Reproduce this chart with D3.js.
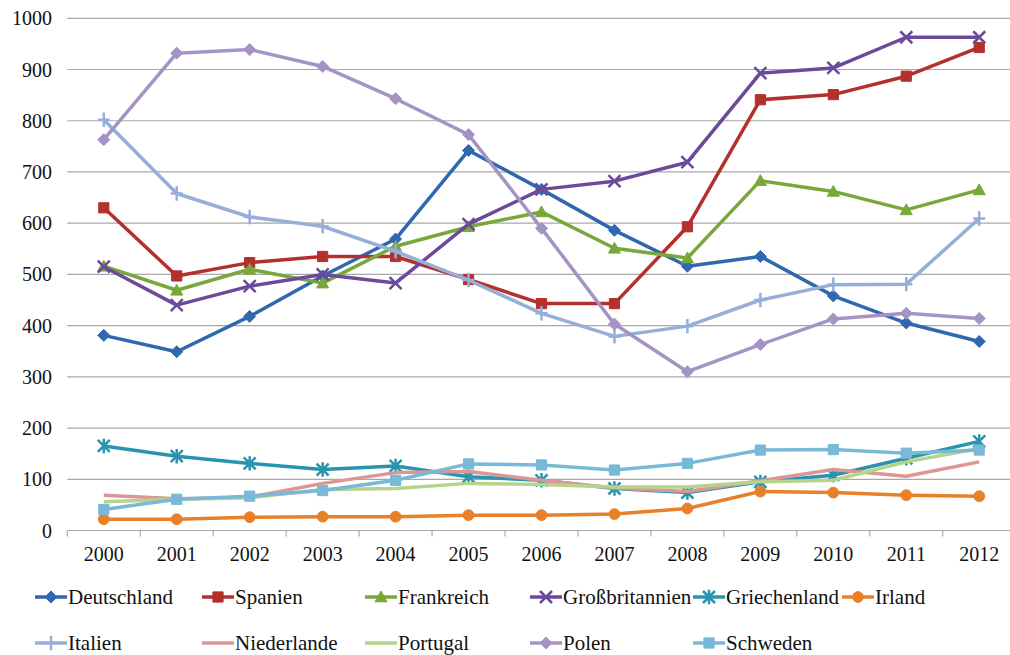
<!DOCTYPE html>
<html>
<head>
<meta charset="utf-8">
<script src="https://cdn.jsdelivr.net/npm/d3@7"></script>
</head>
<body style="margin:0; background:#fff">
<script>
// years on the x axis
const years = ["2000", "2001", "2002", "2003", "2004", "2005", "2006", "2007", "2008", "2009", "2010", "2011", "2012"];
const yTicks = [0, 100, 200, 300, 400, 500, 600, 700, 800, 900, 1000];

// series values
const deutschland = [381, 349, 418, 497, 569, 742, 666, 586, 516, 535, 458, 405, 369];
const spanien = [630, 497, 523, 535, 535, 490, 443, 443, 593, 841, 851, 887, 943];
const frankreich = [516, 469, 510, 483, 555, 593, 622, 551, 532, 683, 662, 626, 665];
const grossbritannien = [515, 440, 477, 500, 483, 598, 666, 682, 719, 893, 903, 963, 963];
const griechenland = [165, 145, 131, 119, 126, 105, 98, 82, 74, 95, 108, 141, 174];
const irland = [22, 22, 26, 27, 27, 30, 30, 32, 43, 76, 74, 69, 67];
const italien = [802, 658, 612, 594, 545, 489, 424, 379, 399, 450, 480, 481, 609];
const niederlande = [69, 62, 65, 92, 113, 115, 98, 83, 76, 97, 119, 106, 134];
const portugal = [56, 61, 64, 80, 82, 92, 90, 85, 85, 95, 98, 134, 160];
const polen = [763, 932, 939, 906, 843, 773, 590, 403, 310, 363, 413, 424, 414];
const schweden = [41, 61, 67, 78, 98, 130, 128, 118, 131, 157, 158, 151, 157];

const seriesNames = ["Deutschland", "Spanien", "Frankreich", "Großbritannien", "Griechenland", "Irland",
                     "Italien", "Niederlande", "Portugal", "Polen", "Schweden"];
const seriesValues = [deutschland, spanien, frankreich, grossbritannien, griechenland, irland,
                      italien, niederlande, portugal, polen, schweden];
const colors = ["#3068b0", "#b3302d", "#78a83a", "#6b4a9a", "#2a93ad", "#e8802a",
                "#95afd8", "#db9696", "#b5d48a", "#a593c4", "#7ab8d8"];
const markers = ["diamond", "square", "triangle", "x", "star", "circle", "plus", "none", "none", "diamond", "square"];

const W = 1010, H = 655;
const svg = d3.select("body").append("svg")
    .attr("width", W)
    .attr("height", H)
    .attr("font-family", "Liberation Serif");

// every text goes through here so the serif face is set on the element itself
function label(sel, size) {
    return sel
        .attr("font-family", "Liberation Serif")
        .style("font-family", '"Liberation Serif"')
        .style("font-size", size + "px")
        .attr("fill", "#111");
}

const x = d3.scaleBand().domain(years).range([67.3, 1015.7]);
const y = d3.scaleLinear().domain([0, 1000]).range([530.5, 18.3]);

// gridlines
svg.append("g")
    .selectAll("line")
    .data(yTicks.slice(1))
    .join("line")
    .attr("x1", 67.3)
    .attr("x2", W)
    .attr("y1", d => y(d))
    .attr("y2", d => y(d))
    .attr("stroke", "#a8a8a8")
    .attr("stroke-width", 1.2);

// y axis labels
svg.append("g")
    .selectAll("text")
    .data(yTicks)
    .join("text")
    .attr("x", 52)
    .attr("y", d => y(d) + 7)
    .attr("text-anchor", "end")
    .call(label, 20)
    .text(d => d);

// x axis labels
svg.append("g")
    .selectAll("text")
    .data(years)
    .join("text")
    .attr("x", d => x(d) + x.bandwidth() / 2)
    .attr("y", y(0) + 30)
    .attr("text-anchor", "middle")
    .call(label, 20)
    .text(d => d);
svg.append("line")
    .attr("x1", 67.3)
    .attr("x2", W)
    .attr("y1", y(0))
    .attr("y2", y(0))
    .attr("stroke", "#a8a8a8")
    .attr("stroke-width", 1.2);
svg.append("g")
    .selectAll("line")
    .data(years)
    .join("line")
    .attr("x1", d => x(d))
    .attr("x2", d => x(d))
    .attr("y1", y(0))
    .attr("y2", y(0) + 6)
    .attr("stroke", "#a8a8a8")
    .attr("stroke-width", 1.2);

// marker drawing
function markerPath(type, r) {
    const p = d3.path();
    if (type === "diamond") {
        p.moveTo(0, -r); p.lineTo(r, 0); p.lineTo(0, r); p.lineTo(-r, 0); p.closePath();
    } else if (type === "square") {
        p.rect(-r * 0.85, -r * 0.85, r * 1.7, r * 1.7);
    } else if (type === "triangle") {
        p.moveTo(0, -r); p.lineTo(r, r * 0.8); p.lineTo(-r, r * 0.8); p.closePath();
    } else if (type === "circle") {
        p.arc(0, 0, r * 0.9, 0, 2 * Math.PI);
    } else if (type === "x") {
        p.moveTo(-r, -r); p.lineTo(r, r); p.moveTo(r, -r); p.lineTo(-r, r);
    } else if (type === "star") {
        p.moveTo(-r, -r); p.lineTo(r, r); p.moveTo(r, -r); p.lineTo(-r, r);
        p.moveTo(0, -r * 1.2); p.lineTo(0, r * 1.2);
    } else if (type === "plus") {
        p.moveTo(-r, 0); p.lineTo(r, 0); p.moveTo(0, -r * 1.2); p.lineTo(0, r * 1.2);
    }
    return p.toString();
}
const strokeMarkers = ["x", "star", "plus"];

const line = d3.line()
    .x((d, i) => x(years[i]) + x.bandwidth() / 2)
    .y(d => y(d));

// series lines + markers
seriesNames.forEach((name, k) => {
    const g = svg.append("g");
    g.append("path")
        .datum(seriesValues[k])
        .attr("fill", "none")
        .attr("stroke", colors[k])
        .attr("stroke-width", 3.5)
        .attr("stroke-linejoin", "round")
        .attr("d", line);
    if (markers[k] !== "none") {
        const isStroke = strokeMarkers.includes(markers[k]);
        g.selectAll("path.m")
            .data(seriesValues[k])
            .join("path")
            .attr("class", "m")
            .attr("transform", (d, i) => `translate(${x(years[i]) + x.bandwidth() / 2},${y(d)})`)
            .attr("d", markerPath(markers[k], 6))
            .attr("fill", isStroke ? "none" : colors[k])
            .attr("stroke", colors[k])
            .attr("stroke-width", isStroke ? 2.5 : 1);
    }
});

// legend
const legendCols = [35, 202, 365, 530, 693, 842];
const legendRows = [597, 643];
const legend = svg.append("g")
    .selectAll("g")
    .data(seriesNames)
    .join("g")
    .attr("transform", (d, i) => `translate(${legendCols[i % 6]},${legendRows[Math.floor(i / 6)]})`);
legend.append("line")
    .attr("x1", 0)
    .attr("x2", 32)
    .attr("stroke", (d, i) => colors[i])
    .attr("stroke-width", 3.5);
legend.filter((d, i) => markers[i] !== "none")
    .append("path")
    .attr("transform", "translate(16,0)")
    .attr("d", d => markerPath(markers[seriesNames.indexOf(d)], 6))
    .attr("fill", d => strokeMarkers.includes(markers[seriesNames.indexOf(d)]) ? "none" : colors[seriesNames.indexOf(d)])
    .attr("stroke", d => colors[seriesNames.indexOf(d)])
    .attr("stroke-width", d => strokeMarkers.includes(markers[seriesNames.indexOf(d)]) ? 2.5 : 1);
legend.append("text")
    .attr("x", 33)
    .attr("y", 7)
    .call(label, 21)
    .text(d => d);
</script>
</body>
</html>
